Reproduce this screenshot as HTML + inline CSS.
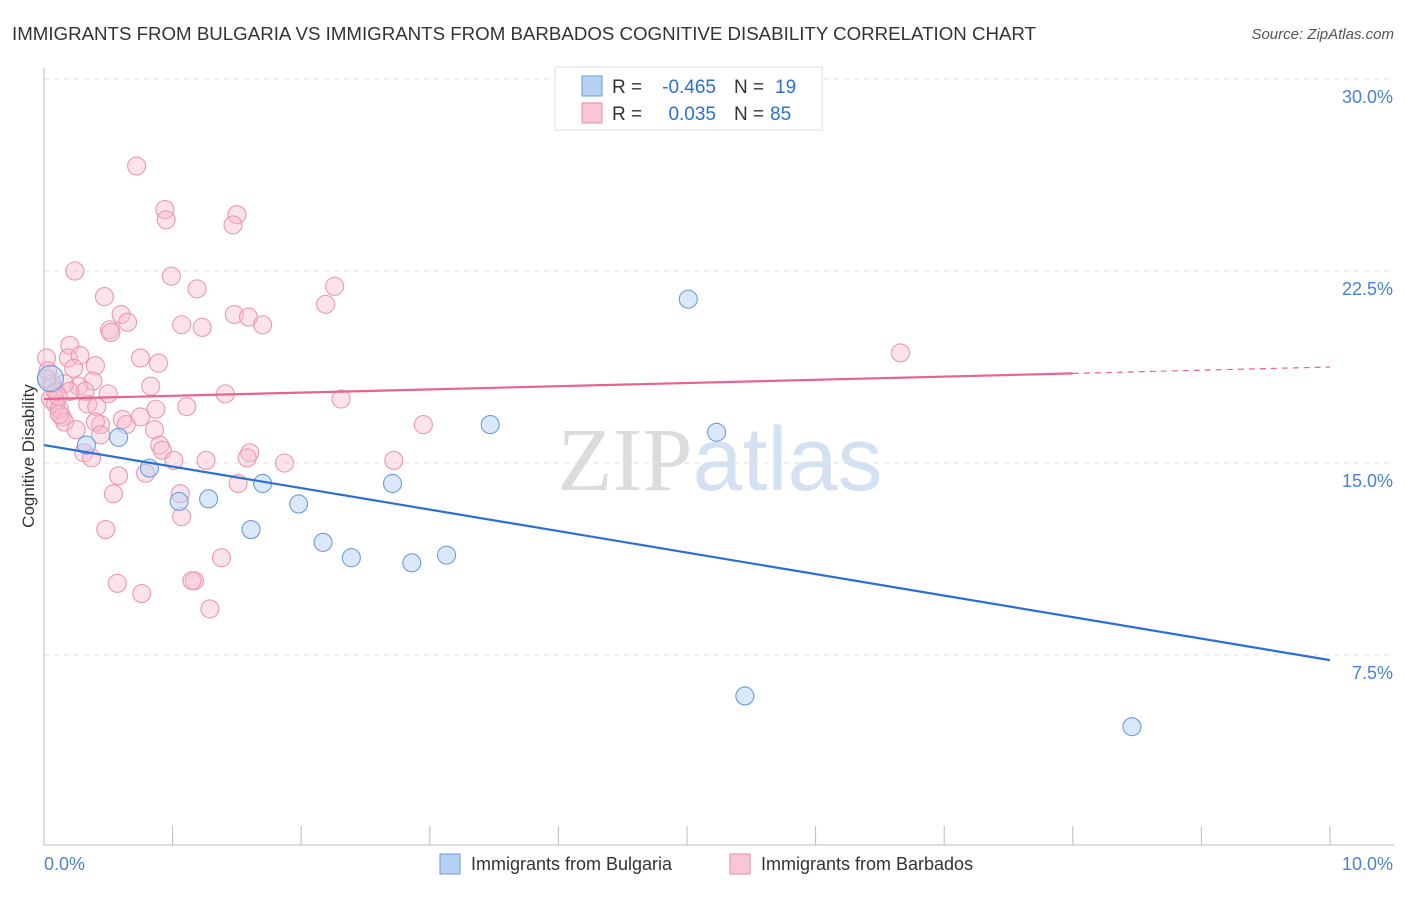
<!DOCTYPE html>
<html><head><meta charset="utf-8">
<style>
body{margin:0;background:#fff;font-family:"Liberation Sans",sans-serif;}
svg text{font-family:"Liberation Sans",sans-serif;}
</style></head><body>
<svg id="chart" width="1406" height="892" xmlns="http://www.w3.org/2000/svg">
<text x="12" y="40" font-size="18" fill="#333" textLength="1024" lengthAdjust="spacingAndGlyphs">IMMIGRANTS FROM BULGARIA VS IMMIGRANTS FROM BARBADOS COGNITIVE DISABILITY CORRELATION CHART</text>
<text x="1394" y="39" font-size="15" fill="#555" font-style="italic" text-anchor="end">Source: ZipAtlas.com</text>
<text x="720" y="490" font-size="90" text-anchor="middle" opacity="0.8"><tspan font-family="Liberation Serif" fill="#d4d4d4">ZIP</tspan><tspan fill="#c9daf1">atlas</tspan></text>
<g id="grid"></g>
<g id="axes"></g>
<g id="pts"></g>
<g id="lines"></g>
<text transform="translate(34,456) rotate(-90)" font-size="17" fill="#333" text-anchor="middle">Cognitive Disability</text>
<g font-size="19">
<rect x="555" y="67" width="267" height="63" fill="#fff" stroke="#ddd"/>
<rect x="582" y="76" width="20" height="20" fill="#b7d1f3" stroke="#6a9be0"/>
<rect x="582" y="103" width="20" height="20" fill="#f9c6d5" stroke="#e88aa8"/>
<text x="612" y="93" fill="#333">R =</text>
<text x="716" y="93" fill="#2a6fd6" text-anchor="end">-0.465</text>
<text x="734" y="93" fill="#333">N =</text>
<text x="775" y="93" fill="#2a6fd6">19</text>
<text x="612" y="120" fill="#333">R =</text>
<text x="716" y="120" fill="#2a6fd6" text-anchor="end">0.035</text>
<text x="734" y="120" fill="#333">N =</text>
<text x="770" y="120" fill="#2a6fd6">85</text>
</g>
<g>
<rect x="440" y="854" width="20" height="20" fill="#b7d1f3" stroke="#6a9be0"/>
<text x="471" y="870" font-size="18" fill="#333">Immigrants from Bulgaria</text>
<rect x="730" y="854" width="20" height="20" fill="#f9c6d5" stroke="#e88aa8"/>
<text x="761" y="870" font-size="18" fill="#333">Immigrants from Barbados</text>
</g>
</svg>
<script>
const yTicks=[7.5,15,22.5,30];
const yTickLabels=["7.5%","15.0%","22.5%","30.0%"];
const xTickLabels=["0.0%","10.0%"];
const bulgariaX=[0.05,0.33,0.58,0.82,1.05,1.28,1.61,1.70,1.98,2.17,2.39,2.71,2.86,3.13,3.47,5.01,5.23,5.45,8.46];
const bulgariaY=[18.3,15.7,16.0,14.8,13.5,13.6,12.4,14.2,13.4,11.9,11.3,14.2,11.1,11.4,16.5,21.4,16.2,5.9,4.7];
const barbadosX=[0.72,0.94,0.95,1.50,1.47,0.24,0.99,1.19,2.26,2.19,0.47,0.60,0.65,0.51,0.52,1.07,1.23,1.48,1.59,1.70,6.66,0.20,0.19,0.28,0.02,0.75,0.89,0.40,0.23,0.03,0.38,0.27,0.83,0.16,0.06,0.50,0.32,1.41,2.31,0.05,0.09,0.34,0.41,1.11,0.87,0.12,0.14,0.16,0.61,0.64,0.75,0.44,0.40,2.95,0.25,0.86,0.44,0.90,0.92,0.31,0.37,1.01,1.26,1.60,1.58,1.87,2.72,0.58,0.79,1.51,1.06,0.54,1.07,0.48,1.38,1.17,1.15,0.57,0.76,1.29,0.09,0.20,0.12,0.02,0.11];
const barbadosY=[26.6,24.9,24.5,24.7,24.3,22.5,22.3,21.8,21.9,21.2,21.5,20.8,20.5,20.2,20.1,20.4,20.3,20.8,20.7,20.4,19.3,19.6,19.1,19.2,19.1,19.1,18.9,18.8,18.7,18.6,18.2,18.0,18.0,18.1,18.1,17.7,17.8,17.7,17.5,17.5,17.3,17.3,17.2,17.2,17.1,17.1,16.8,16.6,16.7,16.5,16.8,16.5,16.6,16.5,16.3,16.3,16.1,15.7,15.5,15.4,15.2,15.1,15.1,15.4,15.2,15.0,15.1,14.5,14.6,14.2,13.8,13.8,12.9,12.4,11.3,10.4,10.4,10.3,9.9,9.3,17.8,17.8,16.9,18.3,17.6];
const bulgariaTrend=[15.7,7.3];
const barbadosTrend=[17.5,18.5,18.75];
const NS="http://www.w3.org/2000/svg";
const X=v=>44+v*128.6, Y=v=>847-v*25.6;
function mk(tag,attrs,parent){const e=document.createElementNS(NS,tag);for(const k in attrs)e.setAttribute(k,attrs[k]);parent.appendChild(e);return e;}
const grid=document.getElementById('grid'),axes=document.getElementById('axes'),pts=document.getElementById('pts'),lines=document.getElementById('lines');
yTicks.forEach((t,i)=>{
 const l=mk('line',{x1:44,x2:1394,y1:Y(t),y2:Y(t),stroke:'#e2e2e2','stroke-dasharray':'5,5'},grid);
 
 
 const tx=mk('text',{x:1393,y:Y(t)+24,'font-size':18,fill:'#4a80d8','text-anchor':'end'},axes);
 tx.textContent=yTickLabels[i];
 
 
});
const ya=mk('line',{x1:44,x2:44,y1:68,y2:845,stroke:'#bbb'},axes);


const xa=mk('line',{x1:44,x2:1394,y1:845,y2:845,stroke:'#bbb'},axes);


for(let i=1;i<=10;i++){const t=mk('line',{x1:X(i),x2:X(i),y1:826,y2:845,stroke:'#bbb'},axes);
 
 }
[[0,44,'start'],[10,1393,'end']].forEach((d,i)=>{const t=mk('text',{x:d[1],y:870,'font-size':18,fill:'#4a80d8','text-anchor':d[2]},axes);t.textContent=xTickLabels[i];
 
 });
barbadosX.forEach((v,i)=>{const c=mk('circle',{cx:X(v),cy:Y(barbadosY[i]),r:9,fill:'#f7b8cb','fill-opacity':0.4,stroke:'#eb97b2','stroke-width':1.1},pts);
 
 });
bulgariaX.forEach((v,i)=>{const c=mk('circle',{cx:X(v),cy:Y(bulgariaY[i]),r:i==0?13:9,fill:'#b7d1f3','fill-opacity':0.5,stroke:'#6a9be0','stroke-width':1.1},pts);
 
 });
const bl=mk('line',{x1:X(0),y1:Y(bulgariaTrend[0]),x2:X(10),y2:Y(bulgariaTrend[1]),stroke:'#2a6fd6','stroke-width':2.2},lines);


const pl=mk('line',{x1:X(0),y1:Y(barbadosTrend[0]),x2:X(8),y2:Y(barbadosTrend[1]),stroke:'#e8648e','stroke-width':2.2},lines);


const pd=mk('line',{x1:X(8),y1:Y(barbadosTrend[1]),x2:X(10),y2:Y(barbadosTrend[2]),stroke:'#e8648e','stroke-width':1.2,'stroke-dasharray':'6,5'},lines);


</script>
</body></html>
